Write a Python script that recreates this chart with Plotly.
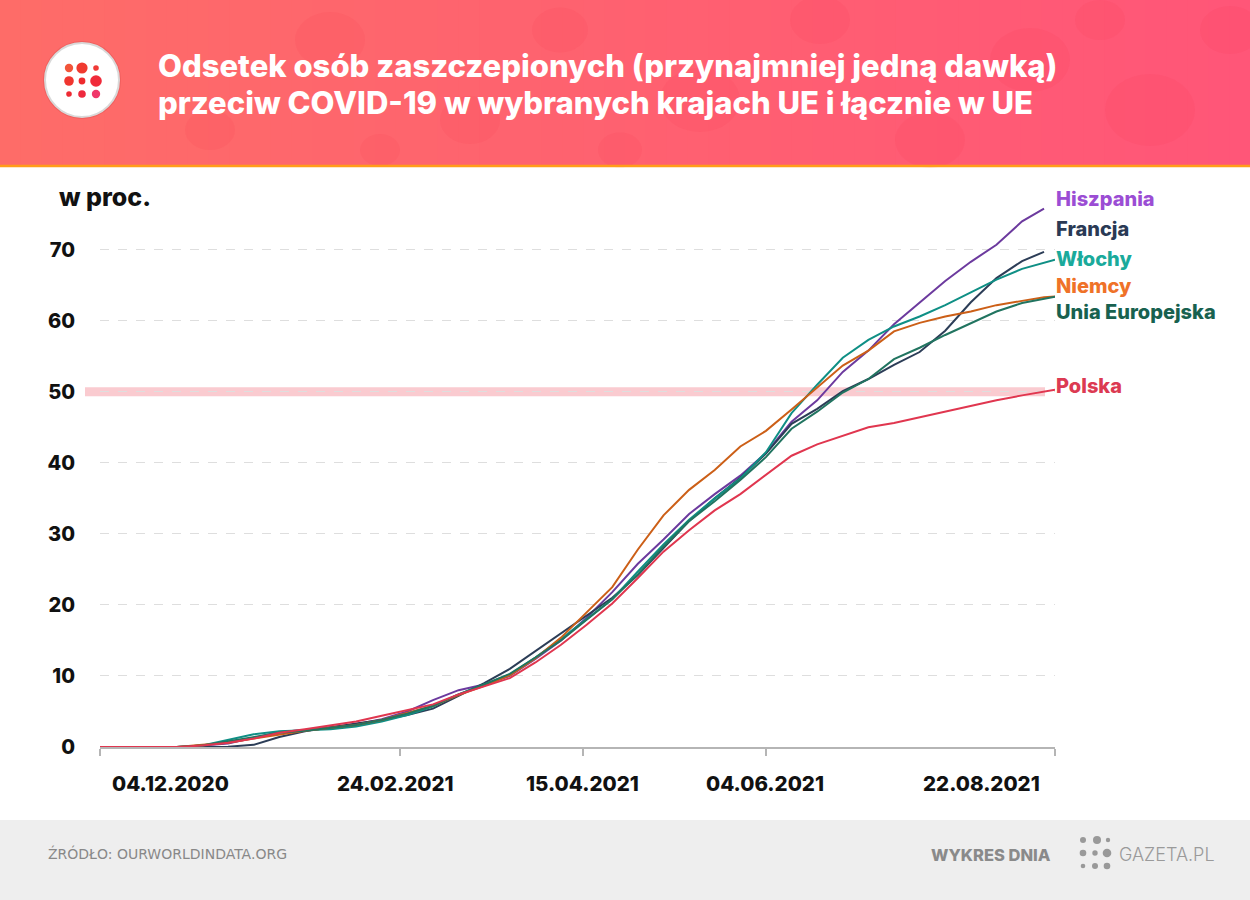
import plotly.graph_objects as go

# ---------------- data ----------------
dates = ["2020-12-04", "2020-12-25", "2021-01-01", "2021-01-08", "2021-01-15", "2021-01-22",
         "2021-01-29", "2021-02-05", "2021-02-12", "2021-02-19", "2021-02-26", "2021-03-05",
         "2021-03-12", "2021-03-19", "2021-03-26", "2021-04-02", "2021-04-09", "2021-04-16",
         "2021-04-23", "2021-04-30", "2021-05-07", "2021-05-14", "2021-05-21", "2021-05-28",
         "2021-06-04", "2021-06-11", "2021-06-18", "2021-06-25", "2021-07-02", "2021-07-09",
         "2021-07-16", "2021-07-23", "2021-07-30", "2021-08-06", "2021-08-13", "2021-08-19",
         "2021-08-22"]

hiszpania = [0, 0, 0.2, 0.5, 1.3, 2.1, 2.4, 2.8, 3.2, 3.9, 5.0, 6.6, 8.0, 8.8, 10.0, 12.4,
             15.0, 18.2, 21.8, 25.8, 29.2, 32.8, 35.6, 38.2, 41.4, 45.8, 48.8, 52.8, 55.8,
             59.5, 62.5, 65.6, 68.3, 70.7, 74.0, 75.8, None]
francja = [0, 0, 0.0, 0.05, 0.3, 1.4, 2.2, 2.8, 3.3, 3.8, 4.5, 5.4, 7.2, 9.0, 11.0, 13.5,
           15.9, 18.5, 21.0, 24.2, 28.0, 31.8, 35.0, 37.9, 41.3, 45.5, 47.6, 50.1, 51.8,
           53.8, 55.6, 58.6, 62.6, 66.0, 68.4, 69.7, None]
wlochy = [0, 0, 0.2, 1.0, 1.8, 2.2, 2.3, 2.5, 2.9, 3.6, 4.5, 5.7, 7.4, 8.8, 10.2, 12.6,
          15.2, 18.0, 20.8, 24.7, 28.5, 32.0, 35.0, 37.8, 41.5, 47.0, 51.0, 54.8, 57.3,
          59.2, 60.6, 62.2, 64.0, 65.8, 67.3, 68.2, 68.6]
niemcy = [0, 0, 0.3, 0.6, 1.2, 1.8, 2.3, 2.7, 3.1, 3.8, 4.8, 5.8, 7.3, 8.6, 10.1, 12.5,
          15.4, 19.0, 22.5, 27.8, 32.6, 36.2, 39.0, 42.3, 44.5, 47.5, 50.6, 53.7, 55.8,
          58.5, 59.7, 60.6, 61.3, 62.2, 62.8, 63.3, 63.4]
ue = [0, 0, 0.2, 0.8, 1.5, 2.0, 2.3, 2.7, 3.1, 3.8, 4.7, 5.8, 7.4, 8.8, 10.3, 12.6,
      15.0, 17.9, 20.8, 24.3, 28.2, 31.8, 34.6, 37.6, 40.8, 44.8, 47.2, 49.9, 51.8,
      54.6, 56.2, 58.0, 59.7, 61.3, 62.5, 63.1, 63.4]
polska = [0, 0, 0.2, 0.6, 1.2, 2.0, 2.5, 3.0, 3.6, 4.4, 5.2, 6.0, 7.4, 8.5, 9.7, 11.9,
          14.4, 17.2, 20.2, 23.8, 27.5, 30.5, 33.3, 35.6, 38.3, 41.0, 42.6, 43.8, 45.0,
          45.6, 46.4, 47.3, 48.0, 48.8, 49.5, 50.1, 50.3]

series_names = ["Hiszpania", "Francja", "Włochy", "Niemcy", "Unia Europejska", "Polska"]
series_values = [hiszpania, francja, wlochy, niemcy, ue, polska]
line_colors = ["#6c3a9e", "#2c3d57", "#0f8f85", "#cc5f17", "#217460", "#e0364f"]
label_colors = ["#9b4dd4", "#2a3a55", "#1aaa9b", "#ef7228", "#18614f", "#dc3a52"]
label_py = [199, 229, 259, 286, 312, 386]

tick_dates = ["2020-12-04", "2021-02-24", "2021-04-15", "2021-06-04", "2021-08-22"]
tick_labels = ["04.12.2020", "24.02.2021", "15.04.2021", "04.06.2021", "22.08.2021"]
y_ticks = [0, 10, 20, 30, 40, 50, 60, 70]

# ---------------- geometry helpers ----------------
W, H = 1250, 900
L, R, T, B = 100, 1055, 200, 747


def px(x):
    return (x - L) / (R - L)


def py(y):
    return (B - y) / (B - T)


FONT = "Inter"

fig = go.Figure()
for name, vals, col in zip(series_names, series_values, line_colors):
    fig.add_trace(go.Scatter(x=dates, y=vals, mode="lines", name=name,
                             line=dict(color=col, width=2), connectgaps=False,
                             hoverinfo="skip"))

shapes = []
annotations = []

# header gradient
n = 60
c0 = (254, 108, 104)
c1 = (255, 86, 120)
for i in range(n):
    t = i / (n - 1)
    c = tuple(int(round(c0[k] + (c1[k] - c0[k]) * t)) for k in range(3))
    x0 = W * i / n
    x1 = W * (i + 1) / n + 1
    shapes.append(dict(type="rect", xref="paper", yref="paper",
                       x0=px(x0), x1=px(x1), y0=py(165), y1=py(0),
                       fillcolor="rgb(%d,%d,%d)" % c, line=dict(width=0), layer="below"))
# subtle texture blobs
blobs = [(330, 40, 35), (470, 120, 30), (560, 30, 28), (700, 100, 40), (820, 20, 30),
         (930, 140, 35), (1030, 60, 40), (1150, 110, 45), (1230, 30, 30), (210, 130, 25),
         (380, 150, 20), (620, 150, 22), (1100, 20, 25)]
for bx, by, br in blobs:
    shapes.append(dict(type="circle", xref="paper", yref="paper",
                       x0=px(bx - br), x1=px(bx + br), y0=py(by + br * 0.8), y1=py(by - br * 0.8),
                       fillcolor="rgba(240,40,70,0.08)", line=dict(width=0), layer="below"))
# orange rule
shapes.append(dict(type="line", xref="paper", yref="paper", x0=px(0), x1=px(W),
                   y0=py(166), y1=py(166), line=dict(color="#ff9d1a", width=2.5)))

# logo circle
shapes.append(dict(type="circle", xref="paper", yref="paper",
                   x0=px(82 - 39), x1=px(82 + 39), y0=py(80 + 39), y1=py(80 - 39),
                   fillcolor="rgba(200,60,60,0.25)", line=dict(width=0)))
shapes.append(dict(type="circle", xref="paper", yref="paper",
                   x0=px(82 - 37), x1=px(82 + 37), y0=py(80 + 37), y1=py(80 - 37),
                   fillcolor="white", line=dict(color="#d9d9d9", width=2)))
logo_dots = [(69, 68, 4.2, "#f2553a"), (82, 68, 5.6, "#f03a30"), (96, 68, 2.8, "#f03a36"),
             (69, 81, 4.8, "#f0352f"), (82, 81, 3.4, "#ee2a2e"), (96, 81, 5.8, "#f02a3a"),
             (69, 94, 2.8, "#ee2a33"), (82, 94, 3.8, "#ee2a3e"), (96, 94, 4.2, "#f0386a")]
for dx, dy, r, col in logo_dots:
    shapes.append(dict(type="circle", xref="paper", yref="paper",
                       x0=px(dx - r), x1=px(dx + r), y0=py(dy + r), y1=py(dy - r),
                       fillcolor=col, line=dict(width=0)))

# title
annotations.append(dict(xref="paper", yref="paper", x=px(156), y=py(66), xanchor="left",
                        yanchor="middle", showarrow=False,
                        text="Odsetek osób zaszczepionych (przynajmniej jedną dawką)",
                        font=dict(family=FONT, size=31, color="white", weight=800)))
annotations.append(dict(xref="paper", yref="paper", x=px(156), y=py(103), xanchor="left",
                        yanchor="middle", showarrow=False,
                        text="przeciw COVID-19 w wybranych krajach UE i łącznie w UE",
                        font=dict(family=FONT, size=31, color="white", weight=800)))

# 50% band
shapes.append(dict(type="line", xref="paper", yref="y", x0=px(85), x1=px(1045), y0=50, y1=50,
                   line=dict(color="rgba(244,140,150,0.45)", width=9), layer="below"))

# footer
shapes.append(dict(type="rect", xref="paper", yref="paper", x0=px(0), x1=px(W),
                   y0=py(900), y1=py(820), fillcolor="#eeeeee", line=dict(width=0), layer="below"))
annotations.append(dict(xref="paper", yref="paper", x=px(46), y=py(853), xanchor="left",
                        yanchor="middle", showarrow=False, text="ŹRÓDŁO: OURWORLDINDATA.ORG",
                        font=dict(family="DejaVu Sans", size=14, color="#888888")))
annotations.append(dict(xref="paper", yref="paper", x=px(1053), y=py(855), xanchor="right",
                        yanchor="middle", showarrow=False, text="WYKRES DNIA",
                        font=dict(family=FONT, size=16.5, color="#8a8a8a", weight=800)))
annotations.append(dict(xref="paper", yref="paper", x=px(1117), y=py(854), xanchor="left",
                        yanchor="middle", showarrow=False, text="GAZETA.PL",
                        font=dict(family=FONT, size=18, color="#9a9a9a", weight=300)))
gray_dots = [(1083, 840, 3.0), (1097, 840, 4.0), (1108, 840, 2.2),
             (1083, 853, 3.3), (1095, 853, 2.7), (1107, 853, 4.3),
             (1083, 866, 2.3), (1095, 866, 3.0), (1107, 866, 3.3)]
for dx, dy, r in gray_dots:
    shapes.append(dict(type="circle", xref="paper", yref="paper",
                       x0=px(dx - r), x1=px(dx + r), y0=py(dy + r), y1=py(dy - r),
                       fillcolor="#999999", line=dict(width=0)))

# y unit label
annotations.append(dict(xref="paper", yref="paper", x=px(57), y=py(197), xanchor="left",
                        yanchor="middle", showarrow=False, text="w proc.",
                        font=dict(family=FONT, size=25, color="#111111", weight=800)))

# x tick labels
xt_anchor = ["left", "center", "center", "center", "right"]
xt_shift = [10, -5, 0, -1, -13]
for d, lab, an, sh in zip(tick_dates, tick_labels, xt_anchor, xt_shift):
    annotations.append(dict(xref="x", yref="paper", x=d, y=py(783), xanchor=an, xshift=sh,
                            yanchor="middle", showarrow=False, text=lab,
                            font=dict(family=FONT, size=20.5, color="#111111", weight=800)))

# series labels
for name, col, ly in zip(series_names, label_colors, label_py):
    annotations.append(dict(xref="paper", yref="paper", x=px(1054), y=py(ly), xanchor="left",
                            yanchor="middle", showarrow=False, text=name,
                            font=dict(family=FONT, size=20, color=col, weight=800)))

fig.update_layout(
    width=W, height=H,
    margin=dict(l=L, r=W - R, t=T, b=H - B, pad=0),
    paper_bgcolor="white", plot_bgcolor="white",
    showlegend=False,
    shapes=shapes, annotations=annotations,
    xaxis=dict(type="date", range=["2020-12-04", "2021-08-22"], showgrid=False,
               zeroline=False, showline=True, linecolor="#b5b5b5", linewidth=2,
               ticks="outside", ticklen=7, tickwidth=1.5, tickcolor="#b5b5b5",
               tickvals=tick_dates, showticklabels=False, fixedrange=True),
    yaxis=dict(range=[0, 77], tickvals=y_ticks, showgrid=True, gridcolor="#dedede",
               griddash="dash", gridwidth=1, zeroline=False, showline=False,
               ticks="", ticklabelstandoff=24,
               tickfont=dict(family=FONT, size=20, color="#111111", weight=800),
               fixedrange=True),
)

fig.write_html("out.html")
